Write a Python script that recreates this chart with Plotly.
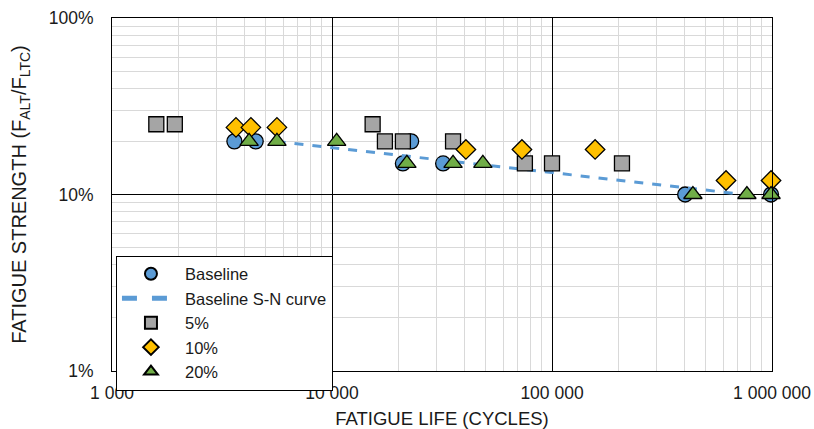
import plotly.graph_objects as go

# Data (fatigue life in cycles, fatigue strength in % of F_LTC)
baseline_n = [3600, 4500, 22900, 21000, 32000, 403000, 990000]
baseline_s = [20, 20, 20, 15, 15, 10, 10]

curve_n = [5600, 750000]
curve_s = [20, 10]

p5_n = [1590, 1930, 15300, 17400, 21000, 35500, 75300, 100000, 208000]
p5_s = [25, 25, 25, 20, 20, 20, 15, 15, 15]

p10_n = [3660, 4280, 5620, 40600, 73000, 157000, 618000, 990000]
p10_s = [24, 24, 24, 18, 18, 18, 12, 12]

p20_n = [4200, 5620, 10500, 21900, 35500, 48500, 437000, 769000, 990000]
p20_s = [20, 20, 20, 15, 15, 15, 10, 10, 10]

x_ticks = [1000, 10000, 100000, 1000000]
x_labels = ['1 000', '10 000', '100 000', '1 000 000']
y_ticks = [1, 10, 100]
y_labels = ['1%', '10%', '100%']

x_minor = [m * d for d in [1000, 10000, 100000] for m in range(2, 10)]
y_minor = [m * d for d in [1, 10] for m in range(2, 10)]

outline = dict(color='black', width=1.3)

fig = go.Figure()
fig.add_trace(go.Scatter(x=baseline_n, y=baseline_s, mode='markers', name='Baseline',
                         marker=dict(symbol='circle', size=15, color='#5B9BD5', line=outline)))
fig.add_trace(go.Scatter(x=curve_n, y=curve_s, mode='lines', name='Baseline S-N curve',
                         line=dict(color='#5B9BD5', width=3, dash='dash')))
fig.add_trace(go.Scatter(x=p5_n, y=p5_s, mode='markers', name='5%',
                         marker=dict(symbol='square', size=15, color='#A5A5A5', line=outline)))
fig.add_trace(go.Scatter(x=p10_n, y=p10_s, mode='markers', name='10%',
                         marker=dict(symbol='diamond', size=15, color='#FFC000', line=outline)))
fig.add_trace(go.Scatter(x=p20_n, y=p20_s, mode='markers', name='20%',
                         marker=dict(symbol='triangle-up', size=16, color='#70AD47', line=outline)))
fig.update_traces(cliponaxis=False)

axis_common = dict(
    type='log', showline=True, linecolor='black', linewidth=1, mirror=True,
    gridcolor='black', gridwidth=1, ticks='', zeroline=False, automargin=False,
    tickfont=dict(size=17.5, color='#1a1a1a'),
)

fig.update_xaxes(
    **axis_common, range=[3, 6], tickmode='array', tickvals=x_ticks, ticktext=x_labels,
    minor=dict(tickmode='array', tickvals=x_minor, showgrid=True, gridcolor='#d9d9d9', gridwidth=1),
    title=dict(text='FATIGUE LIFE (CYCLES)', font=dict(size=18.5, color='#1a1a1a'), standoff=13),
    ticklabelstandoff=6,
)
fig.update_yaxes(
    **axis_common, range=[0, 2], tickmode='array', tickvals=y_ticks, ticktext=y_labels,
    minor=dict(tickmode='array', tickvals=y_minor, showgrid=True, gridcolor='#d9d9d9', gridwidth=1),
    title=dict(text='FATIGUE STRENGTH (F<sub>ALT</sub>/F<sub>LTC</sub>)',
               font=dict(size=20, color='#1a1a1a'), standoff=16),
    ticklabelstandoff=14,
)

fig.update_layout(
    width=814, height=429,
    margin=dict(l=112, r=42, t=18, b=58),
    paper_bgcolor='white', plot_bgcolor='white',
    font=dict(family='Liberation Sans, Arial, sans-serif', size=17, color='#1a1a1a'),
    legend=dict(x=0.006, y=0.327, xanchor='left', yanchor='top',
                bgcolor='white', bordercolor='black', borderwidth=1,
                itemsizing='constant', itemwidth=58,
                font=dict(size=16.5), tracegroupgap=0),
)

# drop the default body margin so the figure fills the window exactly
fig.write_html('out.html', config={'displayModeBar': False},
               post_script="document.body.style.margin='0';")
